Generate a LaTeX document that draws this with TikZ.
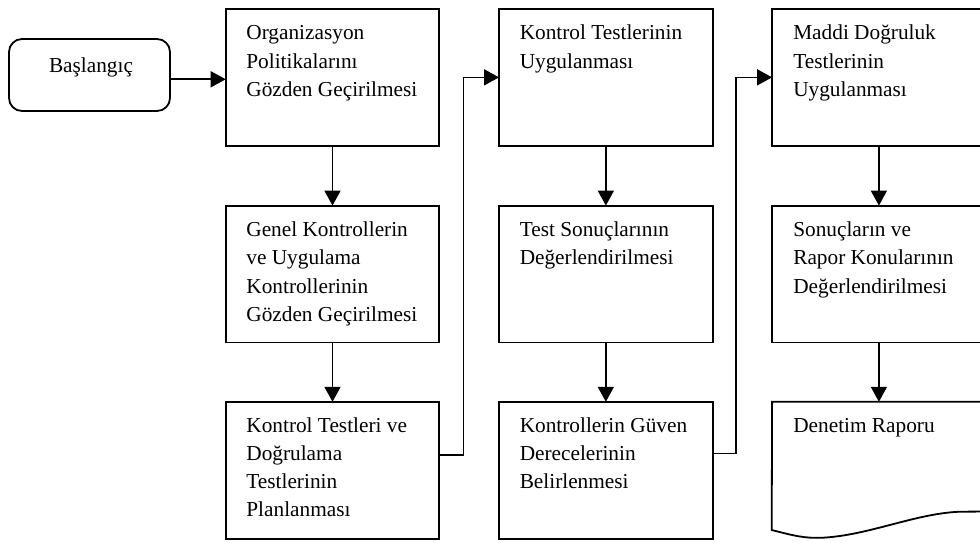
\documentclass[tikz,border=0pt]{standalone}
\usepackage{fontspec}
\setmainfont{Liberation Serif}
\usetikzlibrary{arrows.meta,calc}
\newcommand\boxlines[1]{\parbox[t]{205pt}{\raggedright #1}}
\begin{document}
\begin{tikzpicture}[x=1pt,y=-1pt,
  stepbox/.style={draw, line width=1.8pt, minimum width=213.6pt, minimum height=136.8pt, inner sep=0pt, outer sep=0pt},
  startbox/.style={draw, line width=1.8pt, rounded corners=13pt, minimum width=161pt, minimum height=72pt, inner sep=0pt, outer sep=0pt, text height=10pt, text depth=14.6pt, font=\fontsize{21.3}{28.2}\selectfont},
  boxtext/.style={anchor=base west, inner sep=0pt, font=\fontsize{21.3}{28.2}\selectfont},
  arr/.style={line width=1.6pt, -{Triangle[length=15pt,width=16pt]}},
  link/.style={line width=1.8pt}]
\path[use as bounding box, clip] (0,0) rectangle (980,543);

% start terminal
\node[startbox] (start) at (89.5,75) {\hspace*{3pt}Başlangıç};

% first column
\node[stepbox] (b1) at (332.5,77.35) {};
\node[stepbox] (b2) at (332.5,274) {};
\node[stepbox] (b3) at (332.5,470.2) {};
\node[boxtext] (b1t) at ($(b1.north west)+(20.5,31)$) {\boxlines{Organizasyon\\Politikalarını\\Gözden Geçirilmesi}};
\node[boxtext] (b2t) at ($(b2.north west)+(20.5,31)$) {\boxlines{Genel Kontrollerin\\ve Uygulama\\Kontrollerinin\\Gözden Geçirilmesi}};
\node[boxtext] (b3t) at ($(b3.north west)+(20.5,30.5)$) {\boxlines{Kontrol Testleri ve\\Doğrulama\\Testlerinin\\Planlanması}};

% second column
\node[stepbox] (c1) at (605.85,77.35) {};
\node[stepbox] (c2) at (605.85,274) {};
\node[stepbox] (c3) at (605.85,470.2) {};
\node[boxtext] (c1t) at ($(c1.north west)+(20.5,31)$) {\boxlines{Kontrol Testlerinin\\Uygulanması}};
\node[boxtext] (c2t) at ($(c2.north west)+(20.5,31)$) {\boxlines{Test Sonuçlarının\\Değerlendirilmesi}};
\node[boxtext] (c3t) at ($(c3.north west)+(20.5,30.5)$) {\boxlines{Kontrollerin Güven\\Derecelerinin\\Belirlenmesi}};

% third column (the report box is drawn with a wavy bottom edge)
\node[stepbox] (d1) at (878.9,77.35) {};
\node[stepbox] (d2) at (878.9,274) {};
\node[stepbox, draw=none] (d3) at (878.9,470.2) {};
\draw[link, line join=miter] (990,511.5) -- (960,511.7)
  .. controls (915,513.5) and (870,535) .. (823,537.7)
  .. controls (805,538.5) and (795,536) .. (771.7,530)
  -- (d3.north west) -- (d3.north east) -- (986,511.5);
\node[boxtext] (d1t) at ($(d1.north west)+(21,31)$) {\boxlines{Maddi Doğruluk\\Testlerinin\\Uygulanması}};
\node[boxtext] (d2t) at ($(d2.north west)+(21,31)$) {\boxlines{Sonuçların ve\\Rapor Konularının\\Değerlendirilmesi}};
\node[boxtext] (d3t) at ($(d3.north west)+(21,30.5)$) {\boxlines{Denetim Raporu}};

% connectors
\coordinate (j0) at (200,79.3);
\coordinate (j1) at (463.3,455);
\coordinate (j2) at (736,453.3);
\draw[arr] (start.east |- j0) -- (b1.west |- j0);
\draw[arr] (b1.south) -- (b2.north);
\draw[arr] (b2.south) -- (b3.north);
\draw[arr] (b3.east |- j1) -- (j1) |- (c1.west);
\draw[arr] (c1.south) -- (c2.north);
\draw[arr] (c2.south) -- (c3.north);
\draw[arr] (c3.east |- j2) -- (j2) |- (d1.west);
\draw[arr] (d1.south) -- (d2.north);
\draw[arr] (d2.south) -- (d3.north);
\end{tikzpicture}
\end{document}
